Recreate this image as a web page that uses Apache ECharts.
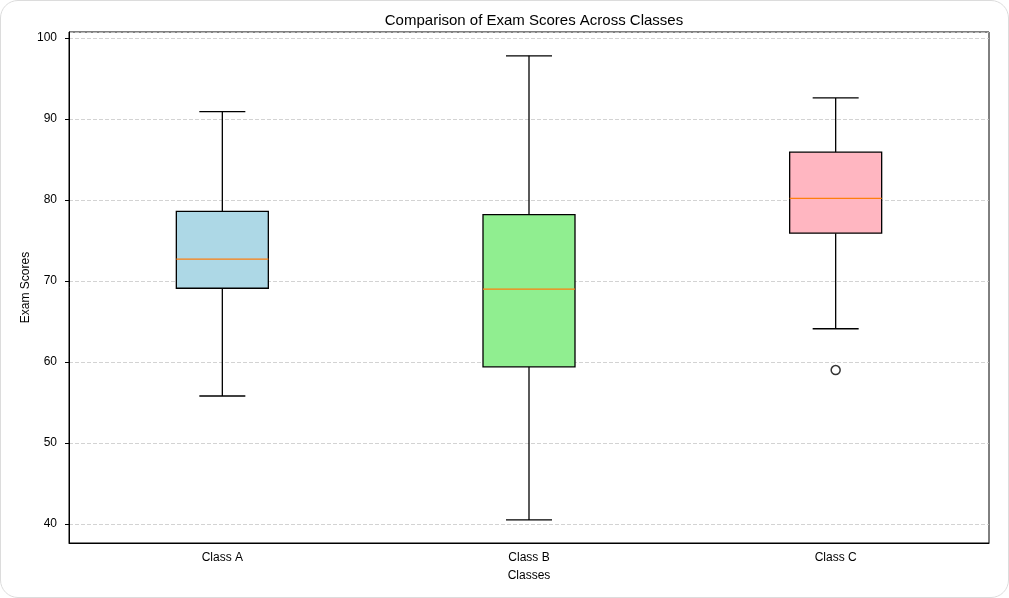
<!DOCTYPE html>
<html>
<head>
<meta charset="utf-8">
<script src="https://cdn.jsdelivr.net/npm/echarts@6/dist/echarts.min.js"></script>
<style>
  html, body { margin: 0; padding: 0; background: #fff; }
  #wrap { position: relative; width: 1009px; height: 598px; }
  #main { width: 1009px; height: 598px; }
  #frame {
    position: absolute; left: 0; top: 0; width: 1009px; height: 598px;
    box-sizing: border-box; border: 1.5px solid #dcdcdc; border-radius: 18px;
    pointer-events: none;
  }
</style>
</head>
<body>
<div id="wrap">
  <div id="main"></div>
  <div id="frame"></div>
</div>
<script>
// data
var classes = ['Class A', 'Class B', 'Class C'];
var lowWhisker = [55.8, 40.5, 64.1];
var q1 = [69.1, 59.4, 75.9];
var median = [72.7, 69.0, 80.2];
var q3 = [78.6, 78.2, 85.9];
var highWhisker = [90.9, 97.8, 92.6];
var outliers = [['Class C', 59.0]];
var boxColors = ['#add8e6', '#90ee90', '#ffb6c1'];

var fontName = 'Liberation Sans';

var boxData = [];
for (var i = 0; i < classes.length; i++) {
  boxData.push([i, lowWhisker[i], q1[i], median[i], q3[i], highWhisker[i]]);
}

function renderBox(params, api) {
  var idx = api.value(0);
  var lo = api.coord([idx, api.value(1)]);
  var b1 = api.coord([idx, api.value(2)]);
  var md = api.coord([idx, api.value(3)]);
  var b3 = api.coord([idx, api.value(4)]);
  var hi = api.coord([idx, api.value(5)]);
  var bw = api.size([1, 0])[0] * 0.3;
  var cx = lo[0];
  var capHalf = bw / 4;
  var stroke = { stroke: '#000', lineWidth: 1.3 };
  return {
    type: 'group',
    children: [
      { type: 'line', shape: { x1: cx, y1: b1[1], x2: cx, y2: lo[1] }, style: stroke },
      { type: 'line', shape: { x1: cx, y1: b3[1], x2: cx, y2: hi[1] }, style: stroke },
      { type: 'line', shape: { x1: cx - capHalf, y1: lo[1], x2: cx + capHalf, y2: lo[1] }, style: stroke },
      { type: 'line', shape: { x1: cx - capHalf, y1: hi[1], x2: cx + capHalf, y2: hi[1] }, style: stroke },
      {
        type: 'rect',
        shape: { x: cx - bw / 2, y: b3[1], width: bw, height: b1[1] - b3[1] },
        style: { fill: boxColors[params.dataIndex], stroke: '#000', lineWidth: 1.3 }
      },
      { type: 'line', shape: { x1: cx - bw / 2, y1: md[1], x2: cx + bw / 2, y2: md[1] }, style: { stroke: '#ff7f0e', lineWidth: 1.3 } }
    ]
  };
}

var myChart = echarts.init(document.getElementById('main'));
var option = {
  animation: false,
  title: {
    text: 'Comparison of Exam Scores Across Classes',
    left: 529,
    top: 8,
    textAlign: 'center',
    textStyle: { fontFamily: fontName, fontSize: 15, fontWeight: 'normal', color: '#000' }
  },
  grid: { left: 69, right: 20, top: 32, bottom: 55, show: true, borderColor: '#000', borderWidth: 1 },
  xAxis: {
    type: 'category',
    data: classes,
    name: 'Classes',
    nameLocation: 'middle',
    nameGap: 27,
    nameMoveOverlap: false,
    nameTextStyle: { fontFamily: fontName, fontSize: 12, color: '#000' },
    axisLine: { lineStyle: { color: '#000', width: 1 } },
    axisTick: { alignWithLabel: true, length: 4, lineStyle: { color: '#000' } },
    axisLabel: { fontFamily: fontName, fontSize: 12, color: '#000', margin: 9 },
    splitLine: { show: false }
  },
  yAxis: {
    type: 'value',
    min: 37.65,
    max: 100.74,
    splitNumber: 6,
    name: 'Exam Scores',
    nameLocation: 'middle',
    nameGap: 37,
    nameMoveOverlap: false,
    nameTextStyle: { fontFamily: fontName, fontSize: 12, color: '#000' },
    axisLine: { show: true, lineStyle: { color: '#000', width: 1 } },
    axisTick: { show: true, length: 4, lineStyle: { color: '#000' } },
    axisLabel: { fontFamily: fontName, fontSize: 12, color: '#000', margin: 12, showMinLabel: false, showMaxLabel: false },
    splitLine: { show: true, lineStyle: { color: '#c8c8c8', width: 0.8, type: [4, 2] } }
  },
  series: [
    {
      type: 'custom',
      renderItem: renderBox,
      encode: { x: 0, y: [1, 2, 3, 4, 5] },
      data: boxData,
      z: 3
    },
    {
      type: 'scatter',
      data: outliers,
      symbol: 'circle',
      symbolSize: 9,
      itemStyle: { color: '#fff', borderColor: '#000', borderWidth: 1.5 },
      z: 4
    }
  ]
};
myChart.setOption(option);
</script>
</body>
</html>
